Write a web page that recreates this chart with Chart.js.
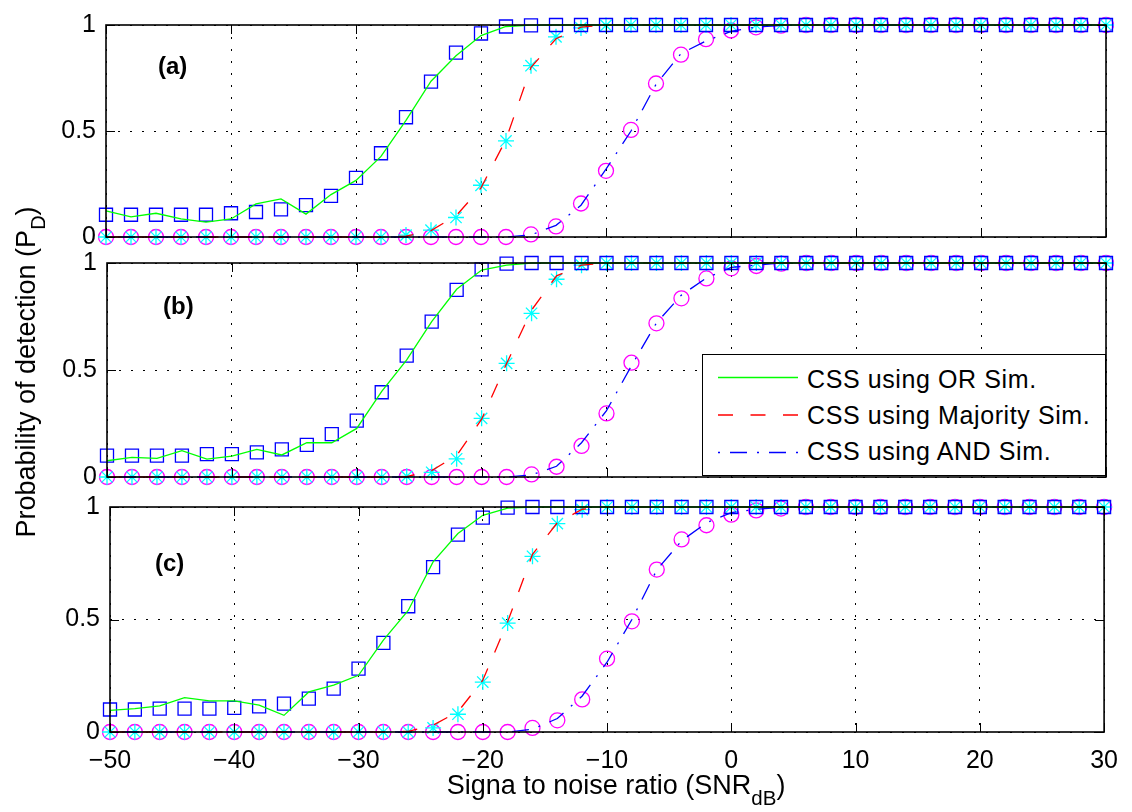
<!DOCTYPE html>
<html><head><meta charset="utf-8">
<script src="https://cdn.jsdelivr.net/npm/chart.js@4.4.1/dist/chart.umd.min.js"></script>
<style>
html,body{margin:0;padding:0;background:#fff;}
#wrap{position:relative;width:1132px;height:812px;overflow:hidden;font-family:"Liberation Sans",Arial,Helvetica,sans-serif;color:#000;background:#fff;}
canvas{position:absolute;left:0;top:0;}
.plabel{position:absolute;font-weight:bold;font-size:24px;line-height:24px;white-space:nowrap;}
#xlabel{position:absolute;left:316px;width:600px;text-align:center;top:770px;font-size:27px;line-height:30px;white-space:nowrap;}
#xlabel .sub{position:relative;font-size:0.76em;top:11px;}
#ylabel{position:absolute;left:-224px;top:357px;width:500px;height:30px;text-align:center;font-size:27px;line-height:30px;transform:rotate(-90deg);white-space:nowrap;}
#ylabel .sub{position:relative;font-size:0.74em;top:0.5em;}
#legend{position:absolute;left:702px;top:354px;width:404px;height:122px;border:1.5px solid #000;background:#fff;box-sizing:border-box;}
.ltext{position:absolute;left:807px;font-size:25px;line-height:36px;letter-spacing:0.6px;white-space:nowrap;}
</style></head>
<body>
<div id="wrap">
<canvas id="ca" width="1132" height="812" style="width:1132px;height:812px"></canvas>
<canvas id="cb" width="1132" height="812" style="width:1132px;height:812px"></canvas>
<canvas id="cc" width="1132" height="812" style="width:1132px;height:812px"></canvas>
<div class="plabel" style="left:158px;top:54px">(a)</div>
<div class="plabel" style="left:163px;top:294px">(b)</div>
<div class="plabel" style="left:155px;top:551px">(c)</div>
<div id="legend"></div>
<svg width="1132" height="812" style="position:absolute;left:0;top:0;pointer-events:none">
<line x1="718" y1="377.5" x2="798" y2="377.5" stroke="#00ff00" stroke-width="1.4"/>
<line x1="718" y1="415" x2="798" y2="415" stroke="#ff0000" stroke-width="1.4" stroke-dasharray="15 17.5"/>
<line x1="718" y1="452.5" x2="798" y2="452.5" stroke="#0000ff" stroke-width="1.4" stroke-dasharray="2 10 17 10"/>
</svg>
<div class="ltext" style="top:361px">CSS using OR Sim.</div>
<div class="ltext" style="top:397px">CSS using Majority Sim.</div>
<div class="ltext" style="top:433px">CSS using AND Sim.</div>
<div id="xlabel">Signa to noise ratio (SNR<span class="sub">dB</span>)</div>
<div id="ylabel">Probability of detection (P<span class="sub">D</span>)</div>
</div>
<script>
// ---------- data ----------
const snrDb = [-50,-48,-46,-44,-42,-40,-38,-36,-34,-32,-30,-28,-26,-24,-22,-20,-18,-16,-14,-12,-10,-8,-6,-4,-2,0,2,4,6,8,10,12,14,16,18,20,22,24,26,28,30];
const xTickValues = [-50,-40,-30,-20,-10,0,10,20,30];
const yTickValues = [0,0.5,1];
const legendLabels = ['CSS using OR Sim.','CSS using Majority Sim.','CSS using AND Sim.'];

// panel (a)
const orSimA   = [0.105,0.105,0.105,0.105,0.105,0.112,0.118,0.13,0.15,0.194,0.279,0.395,0.565,0.733,0.87,0.96,0.993,0.998, 1,1,1,1,1, 1,1,1,1,1, 1,1,1,1,1, 1,1,1,1,1, 1,1,1];
const orLineA  = [0.123,0.095,0.112,0.085,0.07,0.085,0.156,0.18,0.108,0.2,0.267,0.38,0.55,0.735,0.855,0.95,0.993,0.999, 1,1,1,1,1, 1,1,1,1,1, 1,1,1,1,1, 1,1,1,1,1, 1,1,1];
const majSimA  = [0,0,0,0,0, 0,0,0,0,0, 0,0, 0.009,0.032,0.092,0.244,0.453,0.808,0.944,0.986,0.998, 1,1,1,1,1, 1,1,1,1,1, 1,1,1,1,1, 1,1,1,1,1];
const majLineA = [0,0,0,0,0, 0,0,0,0,0, 0,0, 0.004,0.03,0.1,0.232,0.46,0.8,0.935,0.99,1, 1,1,1,1,1, 1,1,1,1,1, 1,1,1,1,1, 1,1,1,1,1];
const andSimA  = [0,0,0,0,0, 0,0,0,0,0, 0,0,0,0,0, 0,0, 0.012,0.05,0.158,0.312,0.505,0.724,0.86,0.933,0.974,0.989,0.997, 1,1,1,1,1, 1,1,1,1,1, 1,1,1];
const andLineA = [0,0,0,0,0, 0,0,0,0,0, 0,0,0,0,0, 0,0, 0.01,0.055,0.15,0.32,0.5,0.72,0.865,0.925,0.97,0.99,0.998, 1,1,1,1,1, 1,1,1,1,1, 1,1,1];

// panel (b)
const orSimB   = [0.1,0.1,0.1,0.1,0.107,0.107,0.115,0.129,0.15,0.2,0.263,0.396,0.567,0.726,0.874,0.97,0.997,1, 1,1,1,1,1, 1,1,1,1,1, 1,1,1,1,1, 1,1,1,1,1, 1,1,1];
const orLineB  = [0.076,0.092,0.087,0.123,0.084,0.098,0.129,0.103,0.16,0.16,0.227,0.4,0.547,0.726,0.877,0.967,0.99,1, 1,1,1,1,1, 1,1,1,1,1, 1,1,1,1,1, 1,1,1,1,1, 1,1,1];
const majSimB  = [0,0,0,0,0, 0,0,0,0,0, 0,0, 0.003,0.022,0.085,0.274,0.531,0.765,0.924,0.99,1, 1,1,1,1,1, 1,1,1,1,1, 1,1,1,1,1, 1,1,1,1,1];
const majLineB = [0,0,0,0,0, 0,0,0,0,0, 0,0, 0.002,0.03,0.1,0.27,0.53,0.78,0.94,0.99,1, 1,1,1,1,1, 1,1,1,1,1, 1,1,1,1,1, 1,1,1,1,1];
const andSimB  = [0,0,0,0,0, 0,0,0,0,0, 0,0,0,0,0, 0,0, 0.012,0.048,0.145,0.297,0.534,0.718,0.835,0.928,0.975,0.986,0.997, 1,1,1,1,1, 1,1,1,1,1, 1,1,1];
const andLineB = [0,0,0,0,0, 0,0,0,0,0, 0,0,0,0,0, 0,0, 0.01,0.05,0.16,0.31,0.52,0.72,0.85,0.93,0.98,0.99,1, 1,1,1,1,1, 1,1,1,1,1, 1,1,1];

// panel (c)
const orSimC   = [0.1,0.1,0.104,0.104,0.104,0.107,0.114,0.126,0.148,0.193,0.282,0.396,0.559,0.733,0.877,0.953,0.997,1, 1,1,1,1,1, 1,1,1,1,1, 1,1,1,1,1, 1,1,1,1,1, 1,1,1];
const orLineC  = [0.096,0.104,0.116,0.153,0.138,0.138,0.119,0.074,0.178,0.208,0.252,0.408,0.54,0.756,0.882,0.963,0.995,1, 1,1,1,1,1, 1,1,1,1,1, 1,1,1,1,1, 1,1,1,1,1, 1,1,1];
const majSimC  = [0,0,0,0,0, 0,0,0,0,0, 0,0, 0,0.018,0.079,0.222,0.484,0.781,0.926,0.988,1, 1,1,1,1,1, 1,1,1,1,1, 1,1,1,1,1, 1,1,1,1,1];
const majLineC = [0,0,0,0,0, 0,0,0,0,0, 0,0, 0.003,0.03,0.09,0.23,0.49,0.79,0.93,0.99,1, 1,1,1,1,1, 1,1,1,1,1, 1,1,1,1,1, 1,1,1,1,1];
const andSimC  = [0,0,0,0,0, 0,0,0,0,0, 0,0,0,0,0, 0,0, 0.018,0.052,0.145,0.326,0.492,0.722,0.856,0.919,0.966,0.985,0.993, 1,1,1,1,1, 1,1,1,1,1, 1,1,1];
const andLineC = [0,0,0,0,0, 0,0,0,0,0, 0,0,0,0,0, 0,0, 0.012,0.06,0.16,0.31,0.5,0.72,0.85,0.93,0.975,0.99,0.998, 1,1,1,1,1, 1,1,1,1,1, 1,1,1];

// ---------- chart ----------
const FONT = '"Liberation Sans", Arial, Helvetica, sans-serif';
const pts = arr => arr.map((v,i) => ({x: snrDb[i], y: v}));
const fmtX = v => v < 0 ? '\u2212' + Math.abs(v) : String(v);

const boxPlugin = {
  id: 'box',
  afterDraw(chart) {
    const {ctx, chartArea: a, scales: {x, y}} = chart;
    const L = 9;
    ctx.save();
    ctx.setLineDash([]);
    ctx.strokeStyle = '#000';
    ctx.lineWidth = 1;
    ctx.beginPath();
    x.ticks.forEach(t => {
      const px = Math.round(x.getPixelForValue(t.value)) + 0.5;
      ctx.moveTo(px, a.bottom); ctx.lineTo(px, a.bottom - L);
      ctx.moveTo(px, a.top); ctx.lineTo(px, a.top + L);
    });
    y.ticks.forEach(t => {
      const py = Math.round(y.getPixelForValue(t.value)) + 0.5;
      ctx.moveTo(a.left, py); ctx.lineTo(a.left + L, py);
      ctx.moveTo(a.right, py); ctx.lineTo(a.right - L, py);
    });
    ctx.stroke();
    ctx.lineWidth = 1.6;
    ctx.strokeRect(a.left, a.top, a.right - a.left, a.bottom - a.top);
    ctx.restore();
  }
};

function makeDatasets(orLine, majLine, andLine, orSim, majSim, andSim) {
  const lineBase = {pointRadius: 0, fill: false, tension: 0, clip: false, borderWidth: 1.3, spanGaps: true};
  const markBase = {showLine: false, clip: false, backgroundColor: 'rgba(0,0,0,0)', pointBorderWidth: 1.3, borderWidth: 1.3};
  return [
    Object.assign({label: legendLabels[0], data: pts(orLine), borderColor: '#00ff00'}, lineBase),
    Object.assign({label: legendLabels[1], data: pts(majLine), borderColor: '#ff0000', borderDash: [15, 17.5]}, lineBase),
    Object.assign({label: legendLabels[2], data: pts(andLine), borderColor: '#0000ff', borderDash: [2, 10, 17, 10]}, lineBase),
    Object.assign({label: 'OR markers', data: pts(orSim), pointStyle: 'rect', pointRadius: 9.2, borderColor: '#0000ff', pointBorderColor: '#0000ff'}, markBase),
    Object.assign({label: 'Majority markers', data: pts(majSim), pointStyle: 'star', pointRadius: 8, borderColor: '#00ffff', pointBorderColor: '#00ffff'}, markBase),
    Object.assign({label: 'AND markers', data: pts(andSim), pointStyle: 'circle', pointRadius: 7.5, borderColor: '#ff00ff', pointBorderColor: '#ff00ff'}, markBase)
  ];
}

function makeChart(id, box, showX, sets) {
  return new Chart(document.getElementById(id), {
    type: 'line',
    data: {datasets: makeDatasets.apply(null, sets)},
    options: {
      responsive: false, animation: false, devicePixelRatio: 1, events: [],
      layout: {padding: {top: box.top, right: 1132 - box.right, left: 0, bottom: 0}},
      plugins: {legend: {display: false}, tooltip: {enabled: false}},
      scales: {
        x: {
          type: 'linear', min: -50, max: 30,
          afterBuildTicks: s => { s.ticks = xTickValues.map(v => ({value: v})); },
          ticks: {display: showX, callback: fmtX, color: '#000', font: {family: FONT, size: 25}, padding: 14, maxRotation: 0, autoSkip: false},
          grid: {color: '#000', lineWidth: 1, drawTicks: false},
          border: {display: false, dash: [2, 10]},
          afterFit: s => { s.height = 812 - box.bottom; }
        },
        y: {
          type: 'linear', min: 0, max: 1,
          afterBuildTicks: s => { s.ticks = yTickValues.map(v => ({value: v})); },
          ticks: {callback: v => String(v), color: '#000', font: {family: FONT, size: 25}, padding: 10, autoSkip: false},
          grid: {color: '#000', lineWidth: 1, drawTicks: false},
          border: {display: false, dash: [2, 10]},
          afterFit: s => { s.width = box.left; }
        }
      }
    },
    plugins: [boxPlugin]
  });
}

makeChart('ca', {top: 17, bottom: 237, left: 106, right: 1106}, false, [orLineA, majLineA, andLineA, orSimA, majSimA, andSimA]);
makeChart('cb', {top: 263, bottom: 477, left: 107, right: 1106}, false, [orLineB, majLineB, andLineB, orSimB, majSimB, andSimB]);
makeChart('cc', {top: 507, bottom: 732, left: 110, right: 1106}, true, [orLineC, majLineC, andLineC, orSimC, majSimC, andSimC]);
</script>
</body></html>
